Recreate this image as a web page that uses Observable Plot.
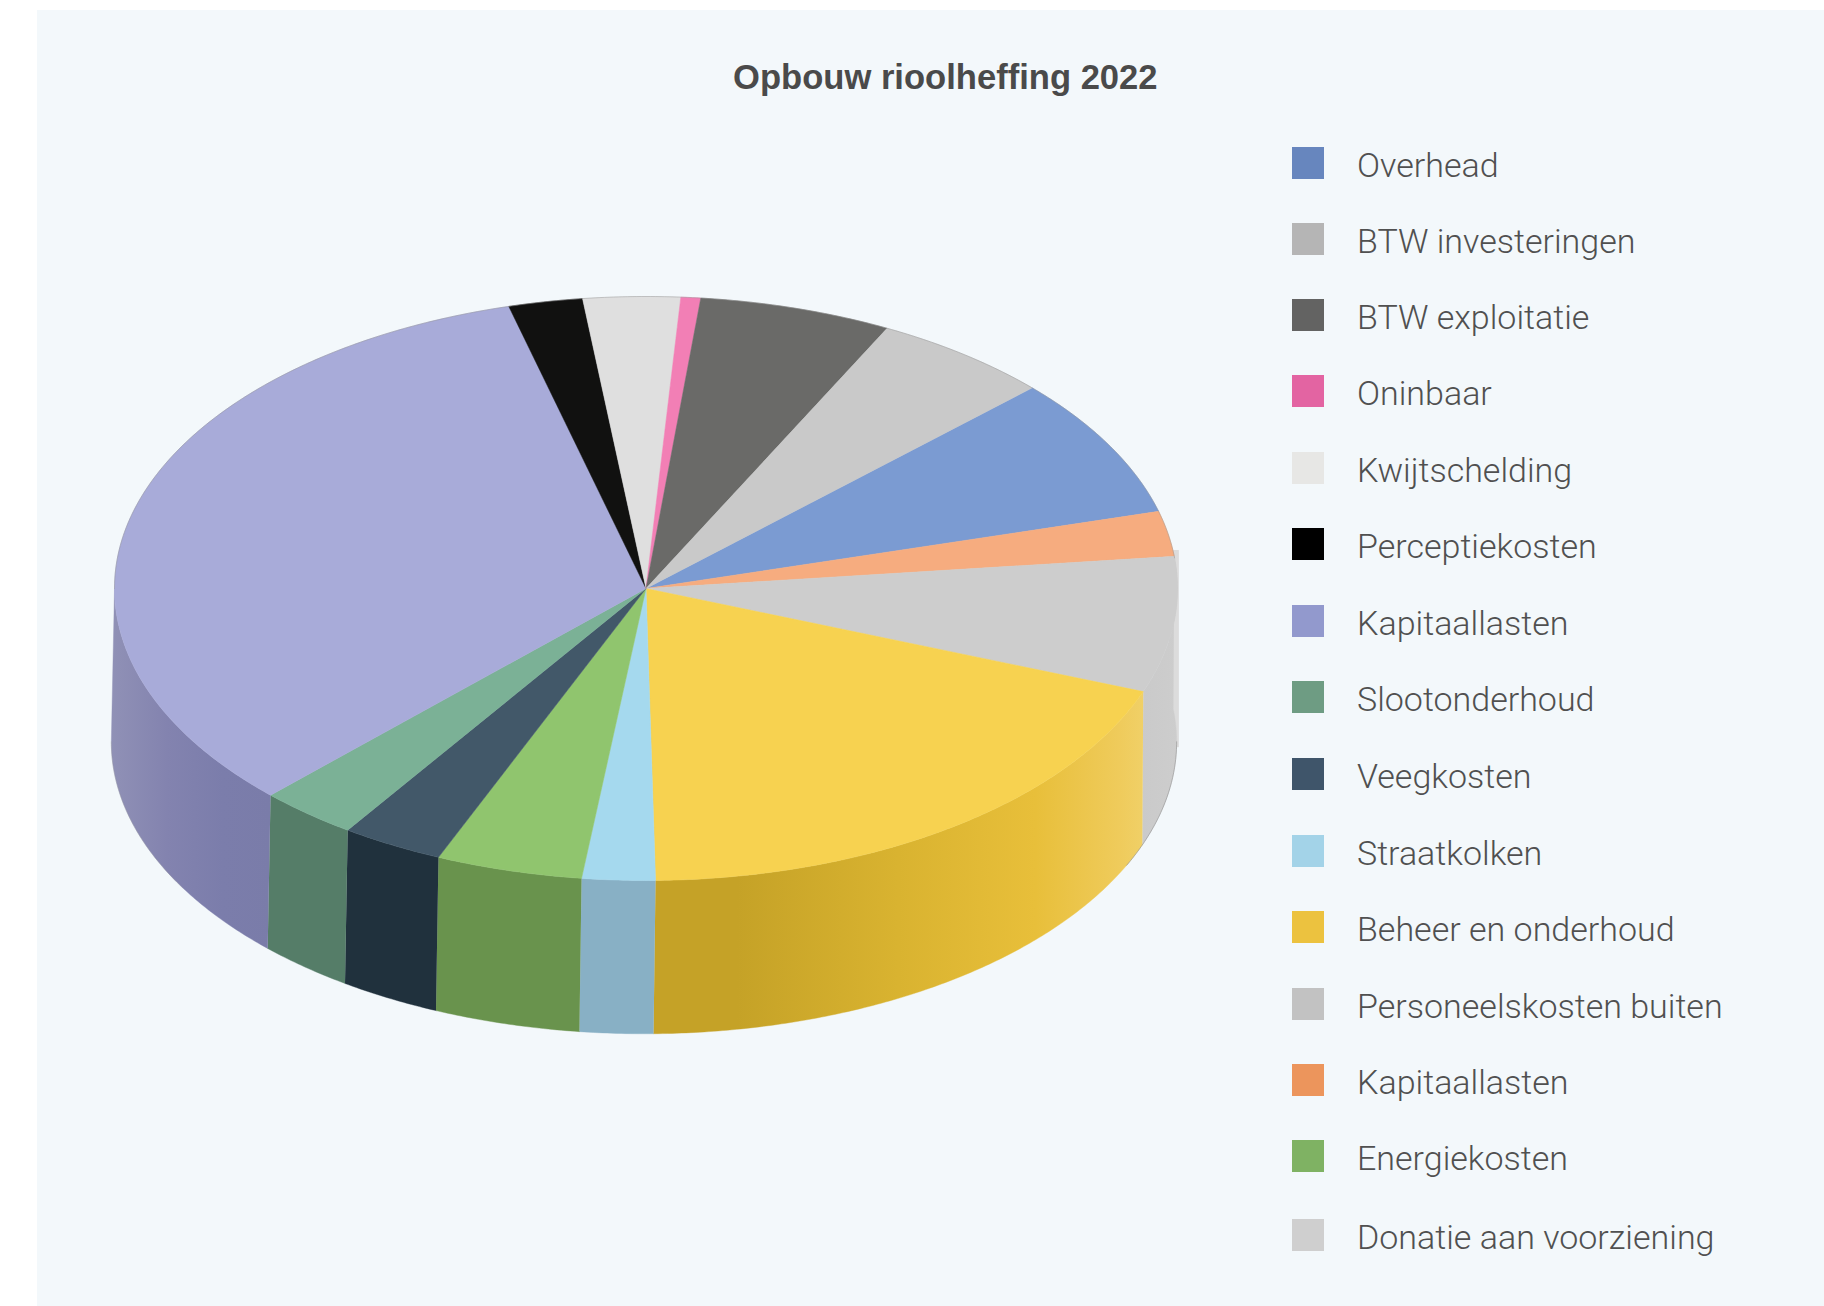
<!DOCTYPE html>
<html lang="nl">
<head>
<meta charset="utf-8">
<title>Opbouw rioolheffing 2022</title>
<script src="https://cdn.jsdelivr.net/npm/d3@7"></script>
<script src="https://cdn.jsdelivr.net/npm/@observablehq/plot@0.6"></script>
<style>
  html, body { margin: 0; background: #fff; }
  #page { position: relative; width: 1824px; height: 1306px; overflow: hidden; }
  #panel { position: absolute; left: 37px; top: 10px; right: 0; bottom: 0; background: #f3f8fb; }
  #page svg { position: absolute; left: 0; top: 0; background: transparent; }
  #title { position: absolute; left: 733px; top: 57px; font: bold 34.6px/40px "Liberation Sans", sans-serif; color: #4a4a4a; white-space: nowrap; }
  .swatch { position: absolute; left: 1292px; width: 32px; height: 32px; }
  .entry { position: absolute; left: 1357px; font: 300 34px/36px Roboto, sans-serif; color: #505050; white-space: nowrap; }
</style>
</head>
<body>
<div id="page"><div id="panel"></div><div id="title">Opbouw rioolheffing 2022</div></div>
<script>
// Legend entries, in the order they are listed
const legendNames = ["Overhead", "BTW investeringen", "BTW exploitatie", "Oninbaar", "Kwijtschelding",
  "Perceptiekosten", "Kapitaallasten", "Slootonderhoud", "Veegkosten", "Straatkolken",
  "Beheer en onderhoud", "Personeelskosten buiten", "Kapitaallasten", "Energiekosten", "Donatie aan voorziening"];
const legendColors = ["#6786be", "#b5b5b5", "#636362", "#e364a2", "#e7e7e5",
  "#000000", "#9299cd", "#6e9c83", "#3f556a", "#a3d3e8",
  "#ecc23f", "#c2c2c2", "#ec955c", "#7fb263", "#cfcfcf"];
const legendTops = [147, 223, 299, 375, 452, 528, 605, 681, 758, 835, 911, 988, 1064, 1140, 1219];

// Slices clockwise around the pie, shares in percent
const sliceNames = ["Overhead", "Kapitaallasten (oranje)", "Personeelskosten buiten", "Beheer en onderhoud",
  "Straatkolken", "Energiekosten", "Veegkosten", "Slootonderhoud", "Kapitaallasten", "Perceptiekosten",
  "Kwijtschelding", "Oninbaar", "BTW exploitatie", "BTW investeringen"];
const sliceShares = [7.8, 2.5, 7.5, 18.97, 2.22, 4.45, 3.1, 3.0, 33.36, 2.25, 2.95, 0.6, 5.85, 5.45];
const topColors = ["#7b9bd2", "#f6ac7f", "#cdcdcd", "#f7d250", "#a5d9ee", "#90c56e", "#425869", "#7bb196",
  "#a8abd9", "#111110", "#dfdfdf", "#f27fb5", "#6a6a68", "#c9c9c9"];
// Shading of the outer wall, left to right, for the slices on the front of the pie
const wallShades = [
  null,
  null,
  [[0, "#cacaca"], [1, "#cdcdcd"]],
  [[0, "#c5a227"], [0.17, "#c5a227"], [0.5, "#d9b330"], [0.78, "#e8bf3a"], [0.95, "#efcb5b"], [1, "#f0d067"]],
  [[0, "#88b0c5"], [1, "#88b0c5"]],
  [[0, "#69934d"], [1, "#69934d"]],
  [[0, "#20313d"], [1, "#20313d"]],
  [[0, "#557d68"], [1, "#557d68"]],
  [[0, "#9091b6"], [0.35, "#8383af"], [0.7, "#7b7dab"], [1, "#7a7ca9"]],
  null, null, null, null, null
];

const firstSliceStart = 46.6;  // degrees clockwise from the back of the pie
const wallDepth = 0.525;       // thickness, in units of the pie's short radius
const rad = Math.PI / 180;

const arcs = d3.pie().sort(null)
  .startAngle(firstSliceStart * rad)
  .endAngle((firstSliceStart + 360) * rad)(sliceShares);

// Points along the rim between two angles; sweep 90..270 degrees is the front
function rim(a0, a1) {
  const n = Math.max(2, Math.ceil((a1 - a0) / (0.5 * rad)));
  return d3.range(n + 1).map(i => {
    const a = a0 + (a1 - a0) * i / n;
    return {x: Math.sin(a), y: Math.cos(a)};
  });
}

// The perspective pulls the lower rim slightly to the left
const lowerRim = p => ({x: p.x - 0.0038 + 0.0022 * p.x, y: p.y - wallDepth});

const defs = () => {
  const d = d3.create("svg:defs");
  wallShades.forEach((stops, i) => {
    if (!stops) return;
    const g = d.append("linearGradient").attr("id", `wall-${i}`);
    stops.forEach(([offset, color]) => g.append("stop").attr("offset", offset).attr("stop-color", color));
  });
  return d.node();
};

const walls = arcs.flatMap((arc, i) => {
  if (!wallShades[i]) return [];
  const upper = rim(arc.startAngle, Math.min(arc.endAngle, 270 * rad));
  const outline = [...upper, ...upper.map(lowerRim).reverse()];
  const paint = `url(#wall-${i})`;
  return [Plot.line(outline, {x: "x", y: "y", fill: paint, stroke: paint, strokeWidth: 0.4})];
});

const tops = arcs.map((arc, i) => {
  const pts = [{x: 0, y: 0}, ...rim(arc.startAngle, arc.endAngle), {x: 0, y: 0}];
  return Plot.line(pts, {x: "x", y: "y", fill: topColors[i], stroke: topColors[i], strokeWidth: 0.5});
});

// Pale highlight down the far right of the wall
const sideGlint = [{x1: 0.985, x2: 1.0035, y1: Math.cos(arcs[2].startAngle) + 0.02, y2: -wallDepth - 0.02}];

// Fine grey edge round the back of the top face and along the silhouette of the wall
const backEdge = rim(-90 * rad, 84 * rad);
const rightEdge = rim(90 * rad, 115 * rad).map(lowerRim);
const leftEdge = rim(240 * rad, 270 * rad).map(lowerRim);

const chart = Plot.plot({
  width: 1824,
  height: 1306,
  margin: 0,
  style: {background: "transparent", overflow: "visible"},
  x: {domain: [-1, 1], range: [114, 1177], axis: null},
  y: {domain: [-1, 1], range: [880, 296], axis: null},
  marks: [
    defs,
    Plot.rect(sideGlint, {x1: "x1", x2: "x2", y1: "y1", y2: "y2", fill: "#dcdcdc"}),
    ...walls,
    ...tops,
    Plot.line(backEdge, {x: "x", y: "y", stroke: "#8e8e8e", strokeWidth: 0.8, strokeOpacity: 0.55}),
    Plot.line(rightEdge, {x: "x", y: "y", stroke: "#8e8e8e", strokeWidth: 0.9, strokeOpacity: 0.65}),
    Plot.line(leftEdge, {x: "x", y: "y", stroke: "#8e8e8e", strokeWidth: 0.7, strokeOpacity: 0.4})
  ]
});

const page = document.getElementById("page");
page.appendChild(chart);

legendNames.forEach((name, i) => {
  const swatch = document.createElement("div");
  swatch.className = "swatch";
  swatch.style.top = legendTops[i] + "px";
  swatch.style.background = legendColors[i];
  page.appendChild(swatch);
  const label = document.createElement("div");
  label.className = "entry";
  label.style.top = legendTops[i] + "px";
  label.textContent = name;
  page.appendChild(label);
});
</script>
</body>
</html>
